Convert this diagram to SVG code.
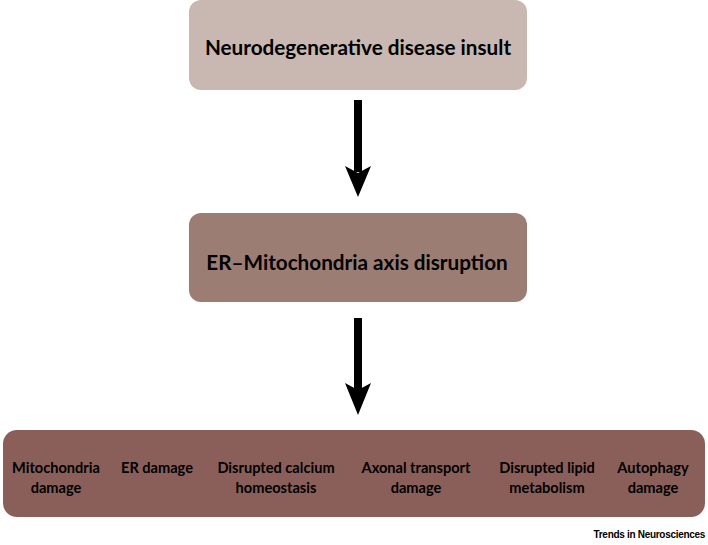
<svg xmlns="http://www.w3.org/2000/svg" width="708" height="545" viewBox="0 0 708 545">
<style>
.t{font-family:Lato,"Open Sans","Liberation Sans",sans-serif;font-weight:bold;fill:#000;text-anchor:middle}
.big{font-size:20.7px}
.sm{font-size:14.6px}
</style>
<rect width="708" height="545" fill="#fff"/>
<g id="node-insult">
<rect x="189" y="0" width="338" height="90" rx="12" fill="#c8b8b1"/>
<text class="t big" x="358" y="55">Neurodegenerative disease insult</text>
</g>
<g id="node-axis">
<rect x="189" y="213" width="338" height="89" rx="12" fill="#9c7d74"/>
<text class="t big" x="357" y="270">ER–Mitochondria axis disruption</text>
</g>
<g id="node-outcomes">
<rect x="3" y="430" width="702" height="87" rx="14" fill="#8a5f5a"/>
<text class="t sm" x="56" y="473">Mitochondria</text>
<text class="t sm" x="56" y="493">damage</text>
<text class="t sm" x="157" y="473">ER damage</text>
<text class="t sm" x="276" y="473">Disrupted calcium</text>
<text class="t sm" x="276" y="493">homeostasis</text>
<text class="t sm" x="416" y="473">Axonal transport</text>
<text class="t sm" x="416" y="493">damage</text>
<text class="t sm" x="547" y="473">Disrupted lipid</text>
<text class="t sm" x="547" y="493">metabolism</text>
<text class="t sm" x="653" y="473">Autophagy</text>
<text class="t sm" x="653" y="493">damage</text>
</g>
<g id="connectors">
<rect x="354" y="100" width="8" height="72" fill="#000"/>
<path d="M345,166 L358,173 L371,166 L358,197 Z" fill="#000"/>
<rect x="354" y="318" width="8" height="72" fill="#000"/>
<path d="M345,383 L358,390 L371,383 L358,415 Z" fill="#000"/>
</g>
<text x="705" y="538" font-family="Liberation Sans Narrow,Liberation Sans,Arial,sans-serif" font-size="10" font-weight="bold" text-anchor="end" letter-spacing="-0.3" fill="#000">Trends in Neurosciences</text>
</svg>
